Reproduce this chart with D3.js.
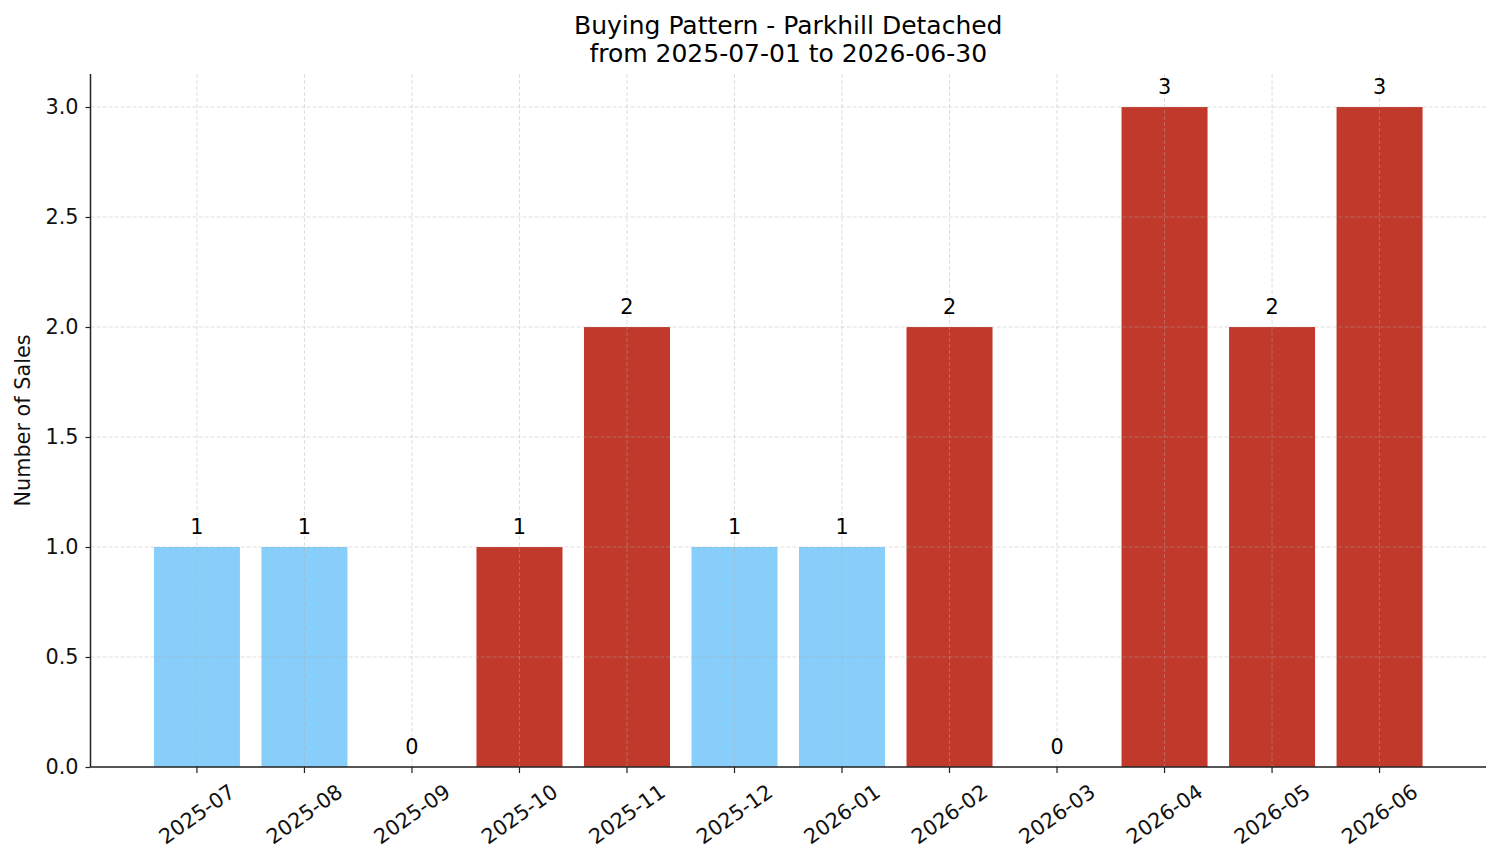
<!DOCTYPE html>
<html>
<head>
<meta charset="utf-8">
<script src="https://cdn.jsdelivr.net/npm/d3@7"></script>
<style>
html,body{margin:0;padding:0;background:#fff;}
svg{display:block;font-family:"DejaVu Sans",sans-serif;}
</style>
</head>
<body>
<svg id="chart" width="1501" height="863"></svg>
<script>
const months = ["2025-07","2025-08","2025-09","2025-10","2025-11","2025-12","2026-01","2026-02","2026-03","2026-04","2026-05","2026-06"];
const sales = [1,1,0,1,2,1,1,2,0,3,2,3];
const barColors = ["#87CEFA","#87CEFA","#87CEFA","#C0392B","#C0392B","#87CEFA","#87CEFA","#C0392B","#C0392B","#C0392B","#C0392B","#C0392B"];
const yTicks = [0,0.5,1.0,1.5,2.0,2.5,3.0];
const titleLines = ["Buying Pattern - Parkhill Detached","from 2025-07-01 to 2026-06-30"];
const yLabel = "Number of Sales";

const svg = d3.select("#chart");
const L = 90.5, R = 1486, T = 74, B = 767;

const x = d3.scaleLinear().domain([-0.99, months.length - 1 + 0.99]).range([L, R]);
const y = d3.scaleLinear().domain([0, 3.15]).range([B, T]);
const bw = x(0.4) - x(-0.4);

// bars
svg.append("g").selectAll("rect").data(sales).join("rect")
  .attr("x", (d,i) => x(i) - bw/2)
  .attr("width", bw)
  .attr("y", d => y(d))
  .attr("height", d => y(0) - y(d))
  .attr("fill", (d,i) => barColors[i]);

// grid (on top, light dashed)
const grid = svg.append("g").attr("stroke", "#b0b0b0").attr("stroke-opacity", 0.5)
  .attr("stroke-width", 0.8).attr("stroke-dasharray", "4,2");
grid.selectAll("line.h").data(yTicks).join("line").attr("class","h")
  .attr("x1", L).attr("x2", R).attr("y1", d => y(d)).attr("y2", d => y(d));
grid.selectAll("line.v").data(months).join("line").attr("class","v")
  .attr("x1", (d,i) => x(i)).attr("x2", (d,i) => x(i)).attr("y1", T).attr("y2", B);

// value labels
svg.append("g").selectAll("text").data(sales).join("text")
  .attr("x", (d,i) => x(i))
  .attr("y", d => y(d) - 13)
  .attr("text-anchor", "middle")
  .attr("font-size", 20.8)
  .attr("fill", "#000")
  .text(d => d);

// y axis
const yAxis = d3.axisLeft(y).tickValues(yTicks).tickFormat(d3.format(".1f")).tickSize(5).tickPadding(7);
const gy = svg.append("g").attr("transform", `translate(${L},0)`).call(yAxis);
gy.select(".domain").attr("d", `M0,${T}V${B}`).attr("stroke", "#222").attr("stroke-width", 1.5);
gy.selectAll(".tick line").attr("stroke", "#222").attr("stroke-width", 1.2);
gy.selectAll(".tick text").attr("font-size", 20.8).attr("fill", "#111").attr("font-family", "DejaVu Sans");

// x axis
const gx = svg.append("g").attr("transform", `translate(0,${B})`);
gx.append("line").attr("x1", L).attr("x2", R).attr("stroke", "#222").attr("stroke-width", 1.5);
const xt = gx.selectAll("g.tick").data(months).join("g").attr("class","tick")
  .attr("transform", (d,i) => `translate(${x(i)},0)`);
xt.append("line").attr("y2", 6).attr("stroke", "#222").attr("stroke-width", 1.2);
xt.append("text")
  .attr("transform", "translate(0,47) rotate(-35)")
  .attr("text-anchor", "middle")
  .attr("dy", "0.35em")
  .attr("font-size", 20.8)
  .attr("fill", "#111")
  .text(d => d);

// y label
svg.append("text")
  .attr("transform", `translate(30,${(T+B)/2}) rotate(-90)`)
  .attr("text-anchor", "middle")
  .attr("font-size", 20.8)
  .attr("fill", "#111")
  .text(yLabel);

// title
svg.append("g").selectAll("text").data(titleLines).join("text")
  .attr("x", (L+R)/2)
  .attr("y", (d,i) => 34 + i*28)
  .attr("text-anchor", "middle")
  .attr("font-size", 25)
  .attr("fill", "#000")
  .text(d => d);
</script>
</body>
</html>
